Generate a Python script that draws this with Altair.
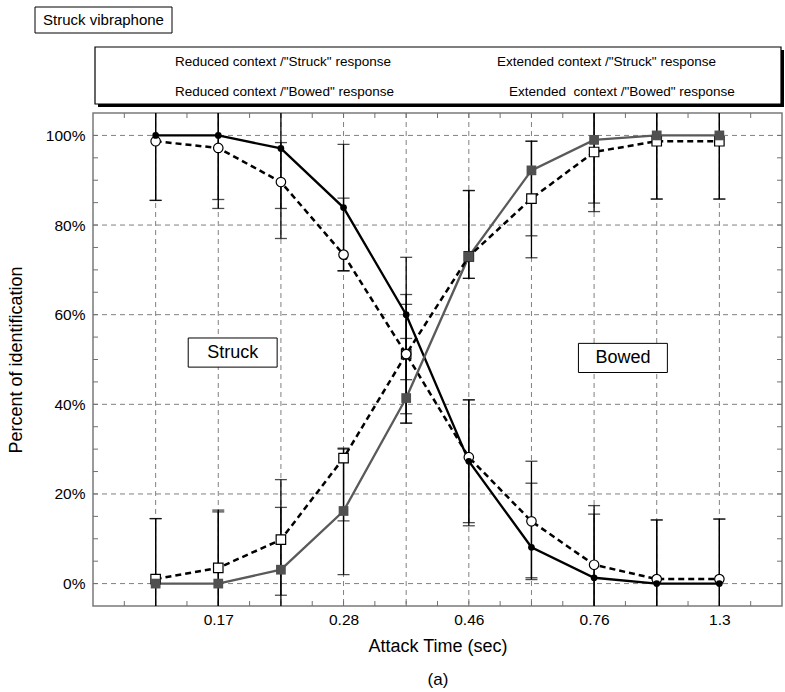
import altair as alt
import pandas as pd

# ---- data -----------------------------------------------------------------
steps = [1, 2, 3, 4, 5, 6, 7, 8, 9, 10]
tick_steps = [2, 4, 6, 8, 10]
tick_labels = ["0.17", "0.28", "0.46", "0.76", "1.3"]

series_names = [
    'Reduced context /"Struck" response',
    'Extended context /"Struck" response',
    'Reduced context /"Bowed" response',
    'Extended context /"Bowed" response',
]

reduced_struck = [100, 100, 97.1, 83.9, 60.0, 27.3, 8.1, 1.3, 0, 0]
extended_struck = [98.7, 97.2, 89.6, 73.4, 51.2, 28.2, 13.9, 4.2, 1.0, 1.0]
reduced_bowed = [0, 0, 3.1, 16.2, 41.4, 73.0, 92.2, 99.0, 100, 100]
extended_bowed = [1.0, 3.5, 9.8, 28.0, 51.2, 73.0, 85.9, 96.3, 98.7, 98.7]

# error-bar bounds (percent); bars running past the frame are clipped
reduced_struck_lo = [85.5, 85.7, 83.7, 69.8, 45.5, 12.9, 1.3, -13.7, -14.2, -14.4]
reduced_struck_hi = [114.5, 114.3, 110.3, 98.0, 72.8, 41.0, 22.4, 15.5, 14.2, 14.4]
extended_struck_lo = [85.5, 83.7, 77.0, 69.8, 37.9, 13.6, 0.9, -9.0, -12.2, -12.4]
extended_struck_hi = [111.9, 110.9, 98.4, 86.0, 64.5, 41.0, 27.3, 17.4, 14.2, 14.4]
reduced_bowed_lo = [-14.5, -16.0, -10.8, 2.0, 35.8, 68.1, 77.6, 84.9, 85.8, 85.8]
reduced_bowed_hi = [14.5, 16.0, 17.0, 30.0, 54.7, 87.7, 98.7, 113.1, 114.2, 114.2]
extended_bowed_lo = [-12.5, -9.4, -2.6, 14.0, 35.8, 68.1, 72.7, 83.0, 85.8, 85.8]
extended_bowed_hi = [14.5, 16.4, 23.2, 30.2, 62.3, 87.7, 98.7, 109.6, 111.6, 111.6]

grid_steps = steps
grid_pcts = [0, 20, 40, 60, 80, 100]
minor_x_ticks = [0.5, 1, 1.5, 2, 2.5, 3, 3.5, 4, 4.5, 5, 5.5, 6, 6.5, 7, 7.5,
                 8, 8.5, 9, 9.5, 10, 10.5]
minor_y_ticks = [0, 5, 10, 15, 20, 25, 30, 35, 40, 45, 50, 55, 60, 65, 70, 75,
                 80, 85, 90, 95, 100]

# ---- tables ----------------------------------------------------------------
means = [reduced_struck, extended_struck, reduced_bowed, extended_bowed]
lows = [reduced_struck_lo, extended_struck_lo, reduced_bowed_lo, extended_bowed_lo]
highs = [reduced_struck_hi, extended_struck_hi, reduced_bowed_hi, extended_bowed_hi]

rows, err_rows, cap_rows = [], [], []
for name, m, lo, hi in zip(series_names, means, lows, highs):
    for s, v, a, b in zip(steps, m, lo, hi):
        rows.append({"series": name, "step": s, "pct": v})
        err_rows.append({"series": name, "step": s, "pct": a, "pct_hi": b})
        cap_rows.append({"series": name, "step": s, "pct": a})
        cap_rows.append({"series": name, "step": s, "pct": b})
df = pd.DataFrame(rows)
err_df = pd.DataFrame(err_rows)
cap_df = pd.DataFrame(cap_rows)

W, H = 689, 493
FONT = "Liberation Sans"

label_lookup = [""] * 12
for s, lab in zip(tick_steps, tick_labels):
    label_lookup[s] = lab
label_expr = "[" + ",".join("'%s'" % t for t in label_lookup) + "][datum.value]"

x_enc = alt.X(
    "step:Q",
    scale=alt.Scale(domain=[0, 11], nice=False, zero=False),
    axis=alt.Axis(values=tick_steps, labelExpr=label_expr, ticks=False,
                  domain=False, grid=False, labelFontSize=15.5, labelPadding=6,
                  labelColor="black", title="Attack Time (sec)",
                  titleFontSize=18, titleFontWeight="normal",
                  titleColor="black", titlePadding=10),
)
y_enc = alt.Y(
    "pct:Q",
    scale=alt.Scale(domain=[-5, 105], nice=False, zero=False),
    axis=alt.Axis(values=grid_pcts, labelExpr="datum.value + '%'",
                  ticks=False, domain=False, grid=False, labelFontSize=15.5,
                  labelPadding=8, labelColor="black",
                  title="Percent of identification", titleFontSize=18,
                  titleFontWeight="normal", titleColor="black",
                  titlePadding=20),
)

one = pd.DataFrame({"k": [0]})

# ---- frame decorations -----------------------------------------------------
vgrid = alt.Chart(pd.DataFrame({"step": grid_steps})).mark_rule(
    color="#808080", strokeWidth=1, strokeDash=[5, 4]
).encode(x=x_enc, y=alt.value(0), y2=alt.value(H))

hgrid = alt.Chart(pd.DataFrame({"pct": grid_pcts})).mark_rule(
    color="#808080", strokeWidth=1, strokeDash=[5, 4]
).encode(y=y_enc, x=alt.value(0), x2=alt.value(W))

xt = pd.DataFrame({"step": minor_x_ticks})
yt = pd.DataFrame({"pct": minor_y_ticks})
tick_style = dict(color="#707070", strokeWidth=1)
ticks = [
    alt.Chart(xt).mark_rule(**tick_style).encode(x=x_enc, y=alt.value(H - 5), y2=alt.value(H)),
    alt.Chart(xt).mark_rule(**tick_style).encode(x=x_enc, y=alt.value(0), y2=alt.value(5)),
    alt.Chart(yt).mark_rule(**tick_style).encode(y=y_enc, x=alt.value(0), x2=alt.value(5)),
    alt.Chart(yt).mark_rule(**tick_style).encode(y=y_enc, x=alt.value(W - 5), x2=alt.value(W)),
]

# ---- error bars ------------------------------------------------------------
bars = alt.Chart(err_df).mark_rule(color="black", strokeWidth=1.3, clip=True).encode(
    x=x_enc, y=y_enc, y2="pct_hi:Q"
)
caps = alt.Chart(cap_df).mark_tick(
    color="black", orient="horizontal", size=12, thickness=1.3, clip=True
).encode(x=x_enc, y=y_enc)

# ---- series ----------------------------------------------------------------
styles = {
    series_names[0]: dict(line=dict(color="black", strokeWidth=2.3),
                          pt=dict(shape="circle", filled=True, fill="black",
                                  color="black", size=45, opacity=1)),
    series_names[1]: dict(line=dict(color="black", strokeWidth=2.5, strokeDash=[6, 4]),
                          pt=dict(shape="circle", filled=True, fill="white",
                                  stroke="black", strokeWidth=1.2, size=90, opacity=1)),
    series_names[2]: dict(line=dict(color="#5a5a5a", strokeWidth=2.3),
                          pt=dict(shape="square", filled=True, fill="#505050",
                                  color="#505050", size=95, opacity=1)),
    series_names[3]: dict(line=dict(color="black", strokeWidth=2.5, strokeDash=[6, 4]),
                          pt=dict(shape="square", filled=True, fill="white",
                                  stroke="black", strokeWidth=1.2, size=90, opacity=1)),
}

line_layers, point_layers = [], []
for name in series_names:
    sub = df[df["series"] == name]
    line_layers.append(alt.Chart(sub).mark_line(**styles[name]["line"]).encode(x=x_enc, y=y_enc))
# markers: open squares first, then filled squares, open circles, filled circles
for name in [series_names[3], series_names[2], series_names[1], series_names[0]]:
    sub = df[df["series"] == name]
    point_layers.append(alt.Chart(sub).mark_point(**styles[name]["pt"]).encode(x=x_enc, y=y_enc))

# ---- in-plot label boxes ---------------------------------------------------
boxes = pd.DataFrame({
    "step": [1.52, 7.75], "step2": [2.94, 9.17],
    "pct": [54.8, 53.6], "pct2": [48.3, 47.1],
})
box_labels = pd.DataFrame({
    "label": ["Struck", "Bowed"],
    "step": [2.23, 8.46], "pct": [51.55, 50.35],
})
box_rects = alt.Chart(boxes).mark_rect(fill="white", stroke="black", strokeWidth=1).encode(
    x=x_enc, x2="step2:Q", y=y_enc, y2="pct2:Q"
)
box_text = alt.Chart(box_labels).mark_text(fontSize=18, font=FONT, color="black").encode(
    x=x_enc, y=y_enc, text="label:N",
)

# ---- title box and legend panel above the plot ------------------------------
def rect(x1, x2, y1, y2, **kw):
    return alt.Chart(one).mark_rect(**kw).encode(
        x=alt.value(x1), x2=alt.value(x2), y=alt.value(y1), y2=alt.value(y2))

def label(txt, x, y, size, align="center"):
    return alt.Chart(one).mark_text(fontSize=size, font=FONT, color="black",
                                    align=align, baseline="middle").encode(
        x=alt.value(x), y=alt.value(y), text=alt.value(txt))

header = [
    rect(-58, 79, -106, -80, fill="white", stroke="black", strokeWidth=1),
    label("Struck vibraphone", 10.5, -93, 15),
    rect(5, 691, -63, -6, fill="black"),
    rect(2, 688, -66, -9, fill="white", stroke="black", strokeWidth=1.2),
    label(series_names[0], 82, -51, 13.5, "left"),
    label(series_names[1], 404, -51, 13.5, "left"),
    label(series_names[2], 82, -21, 13.5, "left"),
    label('Extended\u00a0 context /"Bowed" response', 416, -21, 13.5, "left"),
    label("(a)", 345, 567, 17),
]

chart = alt.layer(
    vgrid, hgrid, *ticks, bars, caps, *line_layers, *point_layers,
    box_rects, box_text, *header,
).properties(
    width=W, height=H,
    autosize=alt.AutoSizeParams(type="none"),
    padding={"left": 93, "top": 113, "right": 3, "bottom": 86},
).configure(font=FONT).configure_view(stroke="#7a7a7a", strokeWidth=1.5)

chart.save("out.html", embed_options={"renderer": "svg", "actions": False})
